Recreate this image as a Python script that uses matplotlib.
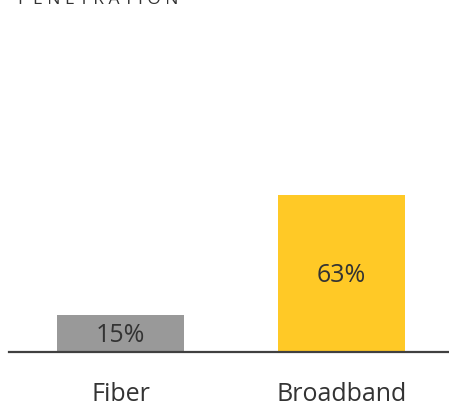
import matplotlib
matplotlib.use("Agg")
from matplotlib import pyplot as plt

categories = ["Fiber", "Broadband"]
values = [15, 63]
valueLabels = ["15%", "63%"]
barColors = ["#999999", "#FFC926"]
title = "PENETRATION"

plt.rcParams['font.family'] = ['Open Sans', 'DejaVu Sans']
textColor = '#333333'

fig = plt.figure(figsize=(4.49, 4.03), dpi=100)
ax = fig.add_axes([9 / 449, 51 / 403, 440 / 449, 332 / 403])

xPos = range(len(categories))
ax.bar(xPos, values, width=0.575, color=barColors, zorder=2)

for i in xPos:
    ax.annotate(valueLabels[i], (i, values[i] / 2.0), xytext=(0, -1.5),
                textcoords='offset points', ha='center', va='center',
                fontsize=18, color=textColor, zorder=3)

ax.set_xlim(-0.5045, 1.486)
ax.set_ylim(0, 133.2)
ax.set_xticks(list(xPos))
ax.set_xticklabels(categories, fontsize=18, color=textColor)
ax.tick_params(axis='x', length=0, pad=21.5)
ax.set_yticks([])

for side in ['top', 'right', 'left']:
    ax.spines[side].set_visible(False)
ax.spines['bottom'].set_color('#404040')
ax.spines['bottom'].set_linewidth(1.6)
ax.spines['bottom'].set_zorder(4)

# title is mostly cut off by the top edge in the original
fig.text(18 / 449, 1 - 4 / 403, " ".join(title), ha='left', va='baseline',
         fontsize=12.5, color=textColor)

fig.savefig("out.png", dpi=100)
